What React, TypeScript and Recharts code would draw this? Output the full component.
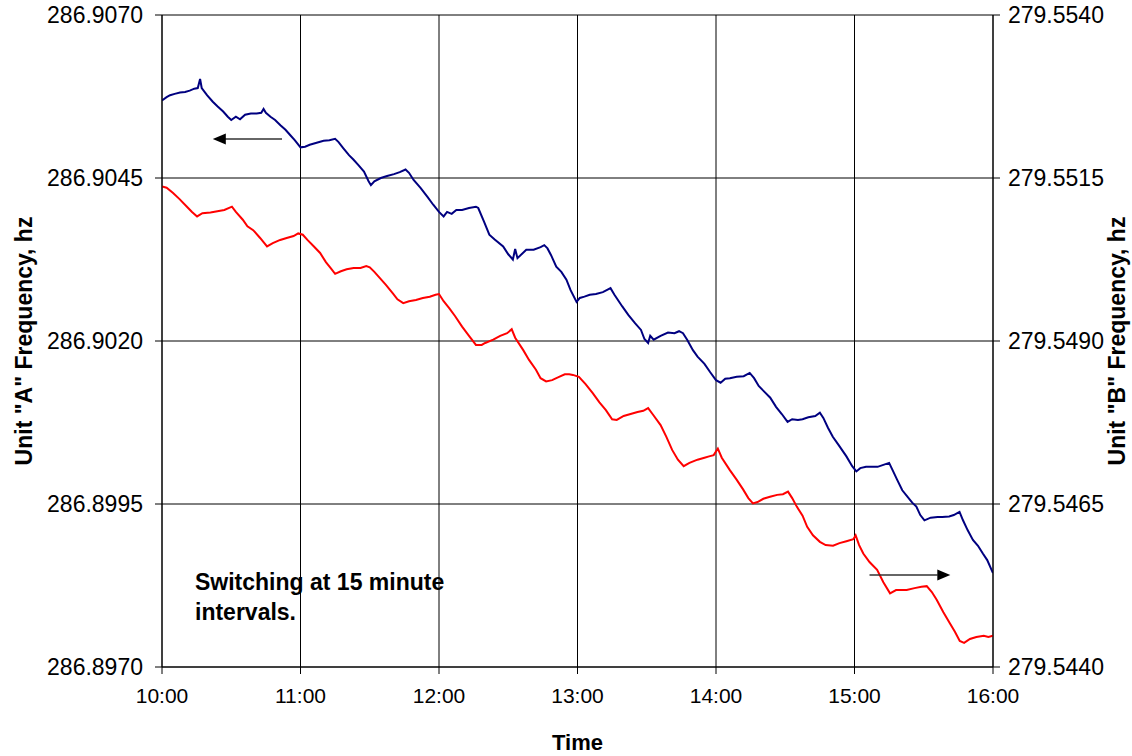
import React from 'react'
import { LineChart, Line, XAxis, YAxis, CartesianGrid, ReferenceLine, ReferenceDot } from 'recharts'

// minutes after 10:00, frequency in hz
const unitATrace: [number, number][] = [
  [0, 286.90569], [2, 286.90574], [3.5, 286.90577], [5.5, 286.90579], [7.8, 286.90581],
  [10, 286.90582], [12, 286.90584], [14, 286.90587], [15.5, 286.90588], [16.5, 286.90602],
  [17.2, 286.90588], [19.5, 286.90577], [22, 286.90567], [24, 286.9056], [26.5, 286.90552],
  [28.5, 286.90544], [30, 286.90539], [32, 286.90544], [33.8, 286.9054], [36, 286.90547],
  [38.5, 286.90549], [41, 286.90549], [43, 286.9055], [44, 286.90556], [45, 286.9055],
  [47, 286.90544], [49, 286.90539], [51.3, 286.90531], [53.5, 286.90524], [55.5, 286.90516],
  [57.5, 286.90508], [60, 286.90497], [62, 286.90498], [64, 286.90501], [67, 286.90504],
  [70, 286.90507], [72.5, 286.90508], [75, 286.9051], [76.5, 286.90505], [78.5, 286.90496],
  [81, 286.90485], [83, 286.90478], [85, 286.9047], [87.5, 286.9046], [89.5, 286.90445],
  [90.5, 286.90439], [92, 286.90445], [94.8, 286.9045], [97.5, 286.90453], [100.5, 286.90456],
  [103, 286.90459], [105.5, 286.90463], [107, 286.90458], [109, 286.90447], [112, 286.90435],
  [115, 286.90421], [117.5, 286.90409], [120, 286.90398], [122, 286.90391], [123.5, 286.90398],
  [125.5, 286.90395], [127.5, 286.90401], [130, 286.90401], [133, 286.90404], [136, 286.90406],
  [137, 286.90404], [139.5, 286.90383], [141.8, 286.90363], [144, 286.90356], [147.8, 286.90345],
  [150, 286.90333], [152, 286.90325], [153, 286.90341], [154, 286.90327], [157.8, 286.9034],
  [161, 286.9034], [164, 286.90344], [165.6, 286.90347], [167, 286.90342], [168.5, 286.90332],
  [170.8, 286.90314], [173, 286.90306], [175.2, 286.90294], [177, 286.90278], [179.6, 286.9026],
  [181, 286.90266], [183, 286.90268], [185.3, 286.90271], [188, 286.90272], [191, 286.90275],
  [194.3, 286.90281], [196, 286.90271], [199.4, 286.90253], [202, 286.9024], [205, 286.90227],
  [207.5, 286.90217], [209, 286.90203], [210.6, 286.90197], [211.5, 286.90208], [213, 286.90202],
  [216, 286.90208], [219.2, 286.90213], [222, 286.90212], [224, 286.90215], [225.7, 286.90212],
  [227.5, 286.90202], [230, 286.90186], [232, 286.90176], [235, 286.90165], [237.5, 286.90152],
  [240, 286.9014], [242, 286.90136], [244, 286.90142], [246, 286.90143], [249, 286.90145],
  [252, 286.90146], [254.6, 286.90151], [256.5, 286.90143], [258.5, 286.90131], [261, 286.90122],
  [263.5, 286.90113], [266, 286.90099], [268.5, 286.90088], [271, 286.90076], [273, 286.9008],
  [275.5, 286.90079], [277.5, 286.9008], [280, 286.90083], [283, 286.90085], [285, 286.9009],
  [286.5, 286.90082], [288.5, 286.90067], [290.6, 286.90053], [293, 286.90041], [296.5, 286.90023],
  [299, 286.90008], [300.8, 286.9], [302.5, 286.90005], [305, 286.90007], [307.8, 286.90007],
  [310, 286.90007], [312.5, 286.9001], [315, 286.90013], [316.5, 286.90002], [318.5, 286.89987],
  [320.7, 286.89971], [323, 286.89961], [325, 286.89952], [326.8, 286.89946], [328.5, 286.89933],
  [330.3, 286.89925], [333, 286.89929], [336, 286.8993], [338, 286.8993], [341, 286.89931],
  [343, 286.89933], [345.5, 286.89938], [347, 286.89925], [349, 286.8991], [351.3, 286.89895],
  [353.5, 286.89886], [355.6, 286.89874], [357.5, 286.89864], [360, 286.89844],
]

const unitBTrace: [number, number][] = [
  [0, 279.55137], [2, 279.55135], [4.8, 279.55127], [7.5, 279.55118], [10.8, 279.55106],
  [13, 279.55098], [15.2, 279.55091], [17.5, 279.55096], [21, 279.55097], [24, 279.55099],
  [27, 279.55101], [30.3, 279.55106], [32, 279.55098], [35, 279.55086], [37, 279.55076],
  [39.5, 279.5507], [42.5, 279.55058], [45.5, 279.55045], [48, 279.5505], [51.2, 279.55055],
  [54, 279.55058], [57, 279.55061], [59, 279.55065], [61, 279.55063], [63, 279.55055],
  [65.5, 279.55046], [68.5, 279.55035], [71, 279.55021], [73, 279.55012], [75, 279.55003],
  [77.5, 279.55007], [80, 279.5501], [83, 279.55012], [86, 279.55012], [88.5, 279.55015],
  [90, 279.55013], [92, 279.55006], [94.5, 279.54996], [97, 279.54986], [100, 279.54973],
  [102, 279.54964], [104.5, 279.54958], [107, 279.54961], [110, 279.54963], [113, 279.54966],
  [116, 279.54968], [118.5, 279.54971], [120, 279.54972], [122, 279.54961], [124.5, 279.5495],
  [127, 279.54938], [130, 279.54922], [133, 279.54908], [136, 279.54894], [138.5, 279.54894],
  [140, 279.54897], [143.5, 279.54902], [146.5, 279.54908], [149.5, 279.54912], [151.5, 279.54918],
  [153, 279.54905], [156.5, 279.54886], [159, 279.54871], [162, 279.54856], [164, 279.54843],
  [166.4, 279.54838], [169, 279.5484], [172, 279.54845], [174.5, 279.54849], [176.4, 279.54849],
  [178, 279.54848], [180.6, 279.54845], [183.5, 279.54834], [186.6, 279.5482], [189.5, 279.54806],
  [192.3, 279.54794], [195, 279.5478], [197, 279.54779], [200, 279.54785], [203, 279.54788],
  [206, 279.54791], [208.5, 279.54793], [210.6, 279.54797], [212.5, 279.54788], [216, 279.54771],
  [218.5, 279.54753], [221, 279.54733], [223.5, 279.54718], [226, 279.54708], [228.5, 279.54713],
  [232, 279.54718], [235, 279.54721], [237, 279.54723], [239, 279.54725], [240.8, 279.54735],
  [242.5, 279.54721], [246, 279.54702], [249, 279.54687], [251.8, 279.54672], [254, 279.54659],
  [256, 279.54651], [258, 279.54653], [260.5, 279.54658], [263.4, 279.54661], [266.5, 279.54664],
  [269, 279.54665], [271.2, 279.54669], [273, 279.54659], [275, 279.54646], [277.5, 279.54632],
  [279.5, 279.54615], [282, 279.54602], [285, 279.54592], [287.5, 279.54587], [290.7, 279.54586],
  [293.5, 279.5459], [296.5, 279.54593], [299.5, 279.54596], [300.5, 279.54602], [302, 279.54587],
  [303.8, 279.54574], [306.5, 279.54561], [309.8, 279.54549], [312.5, 279.5453], [315.4, 279.54513],
  [318, 279.54518], [322.6, 279.54518], [326, 279.54521], [329, 279.54523], [331.3, 279.54524],
  [333.5, 279.54515], [335.6, 279.54503], [338.5, 279.54484], [341.3, 279.54467], [343.5, 279.54454],
  [345.6, 279.5444], [347.5, 279.54437], [350, 279.54443], [352.8, 279.54446], [356, 279.54448],
  [358, 279.54446], [360, 279.54448],
]

const timeTicks = [0, 60, 120, 180, 240, 300, 360]
const unitATicks = [286.897, 286.8995, 286.902, 286.9045, 286.907]
const unitBTicks = [279.544, 279.5465, 279.549, 279.5515, 279.554]

// arrows pointing each trace at its axis: shaft from/to minute, head tip, level
const arrowA = { from: 52, to: 27, tip: 22, level: 286.9051 }
const arrowB = { from: 306.5, to: 336, tip: 341.5, level: 279.54541 }

const FONT = '"Liberation Sans", Arial, sans-serif'

const dataA = unitATrace.map(([t, v]) => ({ t, a: v }))
const dataB = unitBTrace.map(([t, v]) => ({ t, b: v }))

const hourLabel = (t: number) => `${10 + t / 60}:00`

function Head({ cx, cy, dir }: any) {
  if (cx == null || cy == null) return null
  const len = 13
  const half = 5.5
  const back = cx - dir * len
  return <polygon points={`${cx},${cy} ${back},${cy - half} ${back},${cy + half}`} fill="#000" />
}

// rotated axis title, centred on the plot's vertical middle
function SideTitle({ viewBox, value, titleX }: any) {
  const y = viewBox ? viewBox.y + viewBox.height / 2 : 341
  return (
    <text x={titleX} y={y} transform={`rotate(-90, ${titleX}, ${y})`} textAnchor="middle" dominantBaseline="central"
      fontFamily={FONT} fontWeight="bold" fontSize={23} fill="#000">
      {value}
    </text>
  )
}

export default function App() {
  return (
    <div style={{ position: 'absolute', left: 0, top: 0, width: 1132, height: 756, background: '#fff' }}>
      <LineChart width={1132} height={756} margin={{ top: 15, right: 0, bottom: 0, left: 0 }}>
        <CartesianGrid yAxisId="left" stroke="#000" strokeWidth={1} horizontalValues={unitATicks} verticalValues={timeTicks} />
        <XAxis
          dataKey="t" type="number" domain={[0, 360]} ticks={timeTicks} tickFormatter={hourLabel}
          allowDataOverflow height={89} tickSize={7} tickMargin={14}
          stroke="#000" tick={{ fontSize: 21, fill: '#000', fontFamily: FONT }}
          label={{ value: 'Time', position: 'insideBottom', offset: 6, style: { fontSize: 22, fontWeight: 'bold', fill: '#000', fontFamily: FONT } }}
        />
        <YAxis
          yAxisId="left" domain={[286.897, 286.907]} ticks={unitATicks} allowDataOverflow
          tickFormatter={(v: number) => v.toFixed(4)} width={162} tickSize={7} tickMargin={12}
          stroke="#000" tick={{ fontSize: 23, fill: '#000', fontFamily: FONT }}
          label={<SideTitle value={'Unit "A" Frequency, hz'} titleX={24} />}
        />
        <YAxis
          yAxisId="right" orientation="right" domain={[279.544, 279.554]} ticks={unitBTicks} allowDataOverflow
          tickFormatter={(v: number) => v.toFixed(4)} width={139} tickSize={7} tickMargin={8}
          stroke="#000" tick={{ fontSize: 23, fill: '#000', fontFamily: FONT }}
          label={<SideTitle value={'Unit "B" Frequency, hz'} titleX={1117} />}
        />
        <Line yAxisId="left" data={dataA} dataKey="a" type="linear" stroke="#000080" strokeWidth={2}
          dot={false} activeDot={false} isAnimationActive={false} />
        <Line yAxisId="right" data={dataB} dataKey="b" type="linear" stroke="#ff0000" strokeWidth={2}
          dot={false} activeDot={false} isAnimationActive={false} />
        <ReferenceLine yAxisId="left" stroke="#333" strokeWidth={1.5}
          segment={[{ x: arrowA.from, y: arrowA.level }, { x: arrowA.to, y: arrowA.level }]} />
        <ReferenceDot yAxisId="left" x={arrowA.tip} y={arrowA.level} shape={(p: any) => <Head {...p} dir={-1} />} />
        <ReferenceLine yAxisId="right" stroke="#333" strokeWidth={1.5}
          segment={[{ x: arrowB.from, y: arrowB.level }, { x: arrowB.to, y: arrowB.level }]} />
        <ReferenceDot yAxisId="right" x={arrowB.tip} y={arrowB.level} shape={(p: any) => <Head {...p} dir={1} />} />
        <text fontFamily={FONT} fontWeight="bold" fontSize={23} fill="#000">
          <tspan x={195} y={590}>Switching at 15 minute</tspan>
          <tspan x={195} y={620}>intervals.</tspan>
        </text>
      </LineChart>
    </div>
  )
}
